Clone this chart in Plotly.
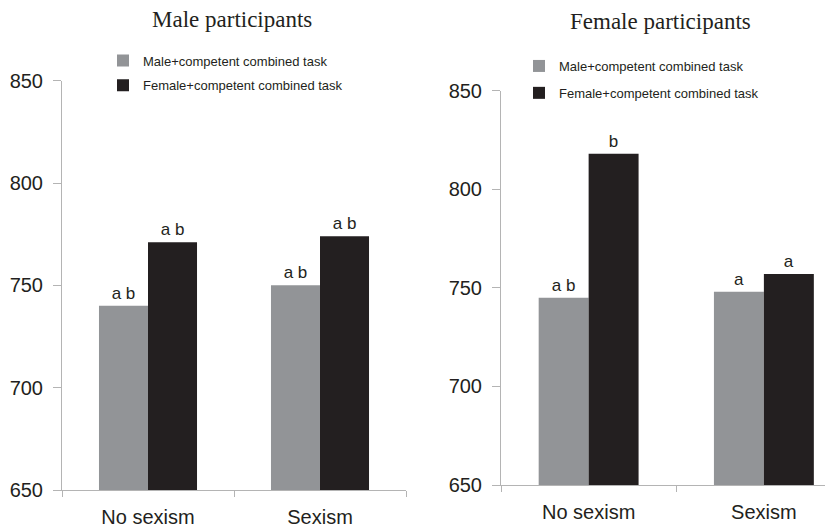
import plotly.graph_objects as go

categories = ["No sexism", "Sexism"]
series_names = ["Male+competent combined task", "Female+competent combined task"]

male_part_malecomp = [740, 750]
male_part_femcomp = [771, 774]
female_part_malecomp = [745, 748]
female_part_femcomp = [818, 757]

male_part_malecomp_lbl = ["a b", "a b"]
male_part_femcomp_lbl = ["a b", "a b"]
female_part_malecomp_lbl = ["a b", "a"]
female_part_femcomp_lbl = ["b", "a"]

panel_titles = ["Male participants", "Female participants"]
y_ticks = [650, 700, 750, 800, 850]

GRAY = "#929497"
BLACK = "#231F20"
TXT = "#231F20"
AXC = "#B4B4B4"
W, H = 833, 530
OFF = 8  # page body margin offset

def px(v):
    return (v - OFF) / W

def py(v):
    return 1 - (v - OFF) / H

fig = go.Figure()

def add(x, y, txt, name, color, xa, ya, leg):
    fig.add_trace(go.Bar(
        x=x, y=y, text=txt, name=name, marker=dict(color=color, line=dict(width=0)),
        textposition="outside", textfont=dict(size=17, color=TXT, family="Liberation Sans, Arial"),
        constraintext="none", cliponaxis=False, xaxis=xa, yaxis=ya, legend=leg,
        legendgroup=leg + name, hoverinfo="x+y+name"))

add(categories, male_part_malecomp, male_part_malecomp_lbl, series_names[0], GRAY, "x", "y", "legend")
add(categories, male_part_femcomp, male_part_femcomp_lbl, series_names[1], BLACK, "x", "y", "legend")
add(categories, female_part_malecomp, female_part_malecomp_lbl, series_names[0], GRAY, "x2", "y2", "legend2")
add(categories, female_part_femcomp, female_part_femcomp_lbl, series_names[1], BLACK, "x2", "y2", "legend2")

xcommon = dict(type="category", showline=True, linecolor=AXC, linewidth=1, ticks="outside",
               tickson="boundaries", ticklen=6, tickcolor=AXC, showgrid=False, zeroline=False,
               automargin=False,
               tickfont=dict(size=20, color=TXT, family="Liberation Sans, Arial"), ticklabelstandoff=9)
ycommon = dict(range=[650, 850], tickvals=y_ticks, showline=True, linecolor=AXC, linewidth=1,
               ticks="outside", ticklen=8, tickcolor=AXC, showgrid=False, zeroline=False,
               automargin=False,
               tickfont=dict(size=20, color=TXT, family="Liberation Sans, Arial"), ticklabelstandoff=6)

fig.update_layout(
    width=W, height=H, margin=dict(l=0, r=0, t=0, b=0, autoexpand=False),
    paper_bgcolor="white", plot_bgcolor="white",
    barmode="group", bargap=0.43, bargroupgap=0,
    xaxis=dict(xcommon, domain=[px(62), px(406)], range=[-0.5, 1.5], anchor="y"),
    yaxis=dict(ycommon, domain=[py(490), py(80.7)], anchor="x"),
    xaxis2=dict(xcommon, domain=[px(501), 1.0], range=[-0.5, 1.44], anchor="y2"),
    yaxis2=dict(ycommon, domain=[py(485), py(90.7)], anchor="x2"),
    legend=dict(x=px(103), y=py(45.5), xanchor="left", yanchor="top", tracegroupgap=5,
                font=dict(size=13, color=TXT, family="Liberation Sans, Arial"), bgcolor="rgba(0,0,0,0)"),
    legend2=dict(x=px(519), y=py(51), xanchor="left", yanchor="top", tracegroupgap=7,
                 font=dict(size=13, color=TXT, family="Liberation Sans, Arial"), bgcolor="rgba(0,0,0,0)"),
    showlegend=True,
)

fig.add_annotation(text=panel_titles[0], x=px(232), y=py(20), xref="paper", yref="paper",
                   showarrow=False, xanchor="center", yanchor="middle",
                   font=dict(size=23, color=TXT, family="Liberation Serif, Times New Roman"))
fig.add_annotation(text=panel_titles[1], x=px(660), y=py(22), xref="paper", yref="paper",
                   showarrow=False, xanchor="center", yanchor="middle",
                   font=dict(size=23, color=TXT, family="Liberation Serif, Times New Roman"))

fig.write_html("out.html")
